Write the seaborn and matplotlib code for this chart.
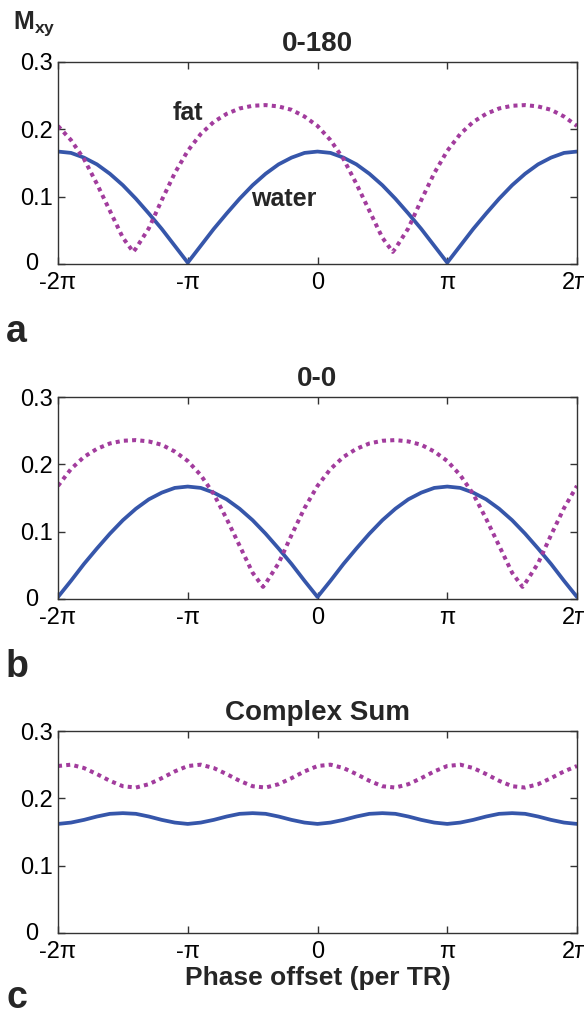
import matplotlib
matplotlib.use("Agg")
import matplotlib.pyplot as plt
import matplotlib.transforms as mtransforms
import numpy as np
import pandas as pd
import seaborn as sns

# ---------------- data (phase in units of pi) ----------------
x_grid = [-2.0, -1.9, -1.8, -1.7, -1.6, -1.5, -1.4, -1.3, -1.2, -1.1,
          -1.0, -0.9, -0.8, -0.7, -0.6, -0.5, -0.4, -0.3, -0.2, -0.1,
          0.0, 0.1, 0.2, 0.3, 0.4, 0.5, 0.6, 0.7, 0.8, 0.9,
          1.0, 1.1, 1.2, 1.3, 1.4, 1.5, 1.6, 1.7, 1.8, 1.9, 2.0]

# panel a : 0-180
water_0180 = [0.167, 0.165, 0.158, 0.148, 0.134, 0.117, 0.097, 0.075, 0.052, 0.027,
              0.002, 0.027, 0.052, 0.075, 0.097, 0.117, 0.134, 0.148, 0.158, 0.165,
              0.167, 0.165, 0.158, 0.148, 0.134, 0.117, 0.097, 0.075, 0.052, 0.027,
              0.002, 0.027, 0.052, 0.075, 0.097, 0.117, 0.134, 0.148, 0.158, 0.165, 0.167]

fat_0180_x = [-2.0, -1.9, -1.8, -1.7, -1.6, -1.5, -1.42, -1.4, -1.3, -1.2, -1.1,
              -1.0, -0.9, -0.8, -0.7, -0.6, -0.5, -0.4, -0.3, -0.2, -0.1,
              0.0, 0.1, 0.2, 0.3, 0.4, 0.5, 0.58, 0.6, 0.7, 0.8, 0.9,
              1.0, 1.1, 1.2, 1.3, 1.4, 1.5, 1.6, 1.7, 1.8, 1.9, 2.0]
fat_0180 = [0.205, 0.184, 0.156, 0.119, 0.079, 0.039, 0.018, 0.023, 0.053, 0.095, 0.135,
            0.168, 0.193, 0.211, 0.223, 0.231, 0.235, 0.236, 0.234, 0.229, 0.219,
            0.205, 0.184, 0.156, 0.119, 0.079, 0.039, 0.018, 0.023, 0.053, 0.095, 0.135,
            0.168, 0.193, 0.211, 0.223, 0.231, 0.235, 0.236, 0.234, 0.229, 0.219, 0.205]

# panel b : 0-0
water_00 = [0.003, 0.027, 0.052, 0.075, 0.097, 0.117, 0.134, 0.148, 0.158, 0.165,
            0.167, 0.165, 0.158, 0.148, 0.134, 0.117, 0.097, 0.075, 0.052, 0.027,
            0.003, 0.027, 0.052, 0.075, 0.097, 0.117, 0.134, 0.148, 0.158, 0.165,
            0.167, 0.165, 0.158, 0.148, 0.134, 0.117, 0.097, 0.075, 0.052, 0.027, 0.003]

fat_00_x = [-2.0, -1.9, -1.8, -1.7, -1.6, -1.5, -1.4, -1.3, -1.2, -1.1,
            -1.0, -0.9, -0.8, -0.7, -0.6, -0.5, -0.42, -0.4, -0.3, -0.2, -0.1,
            0.0, 0.1, 0.2, 0.3, 0.4, 0.5, 0.6, 0.7, 0.8, 0.9,
            1.0, 1.1, 1.2, 1.3, 1.4, 1.5, 1.58, 1.6, 1.7, 1.8, 1.9, 2.0]
fat_00 = [0.168, 0.193, 0.211, 0.223, 0.231, 0.235, 0.236, 0.234, 0.229, 0.219,
          0.205, 0.184, 0.156, 0.119, 0.079, 0.039, 0.018, 0.023, 0.053, 0.095, 0.135,
          0.168, 0.193, 0.211, 0.223, 0.231, 0.235, 0.236, 0.234, 0.229, 0.219,
          0.205, 0.184, 0.156, 0.119, 0.079, 0.039, 0.018, 0.023, 0.053, 0.095, 0.135, 0.168]

# panel c : complex sum
water_sum = [0.162, 0.164, 0.168, 0.173, 0.177, 0.178, 0.177, 0.173, 0.168, 0.164,
             0.162, 0.164, 0.168, 0.173, 0.177, 0.178, 0.177, 0.173, 0.168, 0.164,
             0.162, 0.164, 0.168, 0.173, 0.177, 0.178, 0.177, 0.173, 0.168, 0.164,
             0.162, 0.164, 0.168, 0.173, 0.177, 0.178, 0.177, 0.173, 0.168, 0.164, 0.162]
fat_sum = [0.248, 0.250, 0.245, 0.236, 0.226, 0.218, 0.216, 0.221, 0.230, 0.240,
           0.248, 0.250, 0.245, 0.236, 0.226, 0.218, 0.216, 0.221, 0.230, 0.240,
           0.248, 0.250, 0.245, 0.236, 0.226, 0.218, 0.216, 0.221, 0.230, 0.240,
           0.248, 0.250, 0.245, 0.236, 0.226, 0.218, 0.216, 0.221, 0.230, 0.240, 0.248]

titles = ["0-180", "0-0", "Complex Sum"]
panel_letters = ["a", "b", "c"]
x_ticks = [-2, -1, 0, 1, 2]
x_tick_labels = ["-2\u03c0", "-\u03c0", "0", "\u03c0", "2\u03c0"]
y_ticks = [0, 0.1, 0.2, 0.3]
y_tick_labels = ["0", "0.1", "0.2", "0.3"]

panels = [
    (x_grid, water_0180, fat_0180_x, fat_0180),
    (x_grid, water_00, fat_00_x, fat_00),
    (x_grid, water_sum, x_grid, fat_sum),
]

# ---------------- style ----------------
sns.set_theme(style="ticks")
plt.rcParams["font.family"] = ["Liberation Sans", "DejaVu Sans"]
plt.rcParams["mathtext.fontset"] = "custom"
plt.rcParams["mathtext.rm"] = "Liberation Sans"
plt.rcParams["mathtext.bf"] = "Liberation Sans:bold"

WATER_C = "#3656AA"
FAT_C = "#A23C9D"
SPINE_C = "#333333"

W, H = 584, 1014
fig = plt.figure(figsize=(W / 100, H / 100), dpi=100, facecolor="white")

left_px, right_px = 58, 577
tops_px = [62, 397, 731]
ax_h_px = 202
letter_base_px = [342, 677, 1008]

for i, (wx, wy, fx, fy) in enumerate(panels):
    top = tops_px[i]
    ax = fig.add_axes([left_px / W, 1 - (top + ax_h_px) / H,
                       (right_px - left_px) / W, ax_h_px / H])
    dfw = pd.DataFrame({"phase": wx, "Mxy": wy})
    dff = pd.DataFrame({"phase": fx, "Mxy": fy})
    sns.lineplot(data=dfw, x="phase", y="Mxy", ax=ax, color=WATER_C,
                 linewidth=2.7, estimator=None, sort=False)
    sns.lineplot(data=dff, x="phase", y="Mxy", ax=ax, color=FAT_C,
                 linewidth=2.9, estimator=None, sort=False,
                 linestyle=(0, (1.0, 1.05)), dash_capstyle="butt")
    ax.set_xlim(-2, 2)
    ax.set_ylim(0, 0.3)
    ax.set_xticks(x_ticks)
    ax.set_xticklabels(x_tick_labels)
    ax.set_yticks(y_ticks)
    ax.set_yticklabels(y_tick_labels)
    ax.tick_params(direction="in", length=5, width=1, top=True, right=True,
                   labelsize=17, color=SPINE_C, labelcolor="black")
    ax.tick_params(axis="x", pad=6)
    ax.tick_params(axis="y", pad=4)
    # MATLAB-style: the y "0" label sits a little left so it clears "-2π"
    zero_lbl = ax.get_yticklabels()[0]
    zero_lbl.set_transform(zero_lbl.get_transform() +
                           mtransforms.ScaledTranslation(-14 / 100, 2 / 100,
                                                         fig.dpi_scale_trans))
    for s in ax.spines.values():
        s.set_visible(True)
        s.set_color(SPINE_C)
        s.set_linewidth(1.0)
    ax.set_xlabel("")
    ax.set_ylabel("")
    ax.set_title(titles[i], fontsize=20, fontweight="bold", pad=8)
    fig.text(6 / W, 1 - letter_base_px[i] / H, panel_letters[i],
             fontsize=27, fontweight="bold", va="baseline", ha="left")
    if i == 0:
        ax.text(-1.0, 0.224, "fat", fontsize=18, fontweight="bold",
                ha="center", va="center")
        ax.text(-0.257, 0.097, "water", fontsize=18, fontweight="bold",
                ha="center", va="center")
    if i == 2:
        ax.set_xlabel("Phase offset (per TR)", fontsize=19,
                      fontweight="bold", labelpad=2)

fig.text(13 / W, 1 - 29 / H, r"$\mathbf{M}_{\mathbf{xy}}$", fontsize=18,
         va="baseline", ha="left")

fig.savefig("out.png", dpi=100, facecolor="white")
